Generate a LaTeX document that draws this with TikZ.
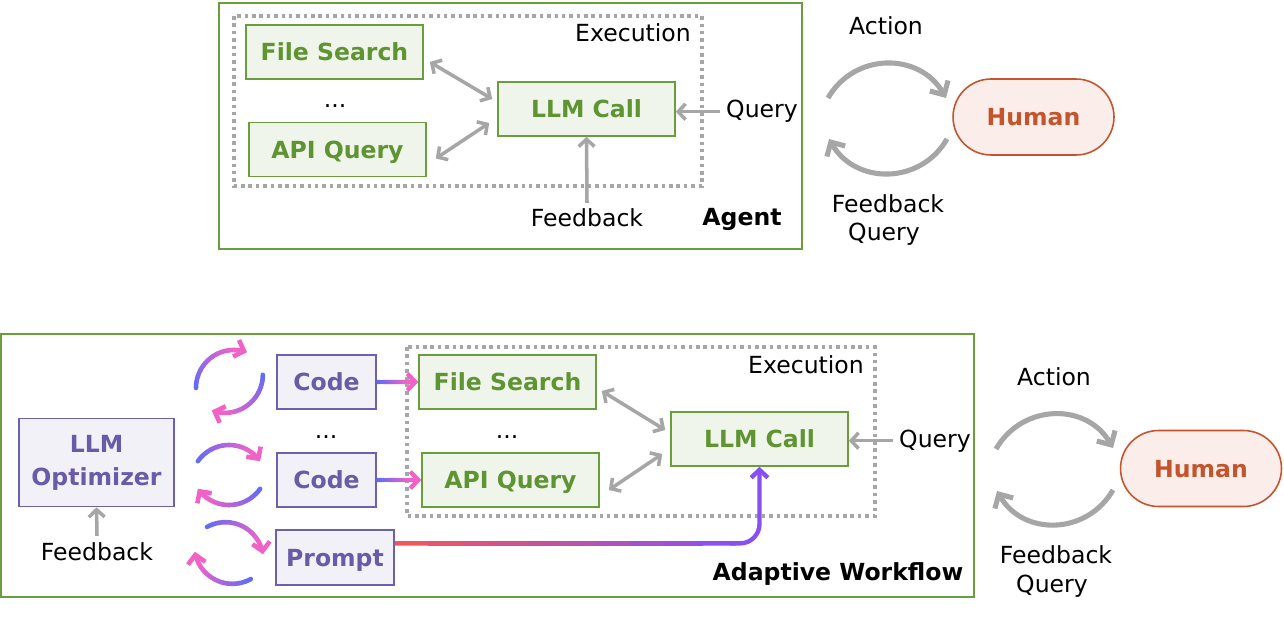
\documentclass[tikz,border=0pt]{standalone}
\usepackage{fontspec}
\setmainfont{DejaVu Sans}
\usetikzlibrary{arrows.meta,calc,positioning}

\definecolor{grn}{HTML}{6A9E3C}
\definecolor{grntxt}{HTML}{5E9432}
\definecolor{grnfill}{HTML}{EFF5EA}
\definecolor{prp}{HTML}{6E60B0}
\definecolor{prptxt}{HTML}{6A5BA8}
\definecolor{prpfill}{HTML}{F2F1F7}
\definecolor{hum}{HTML}{C4542C}
\definecolor{humfill}{HTML}{FBEDEA}
\definecolor{gry}{HTML}{A6A6A6}
\definecolor{cblue}{HTML}{5B6CF6}
\definecolor{cpink}{HTML}{F062C8}
\definecolor{cred}{HTML}{F45757}
\definecolor{cviolet}{HTML}{8A4FF4}

\tikzset{
  lbl/.style={font=\fontsize{13.4}{16}\selectfont, anchor=base},
  lblb/.style={lbl, font=\fontsize{13.4}{16}\bfseries\selectfont},
  box/.style={draw, line width=0.9pt, font=\fontsize{13.4}{18.7}\bfseries\selectfont, inner sep=0pt},
  capbox/.style={text height=9.7pt, text depth=0pt},
  exebox/.style={box, capbox, draw=grn, fill=grnfill, text=grntxt, minimum width=3.54cm, minimum height=1.08cm},
  optbox/.style={box, draw=prp, fill=prpfill, text=prptxt},
  humbox/.style={box, capbox, draw=hum, fill=humfill, text=hum, minimum width=3.22cm, minimum height=1.52cm, rounded corners=0.76cm},
  outerbox/.style={draw=grn, line width=1.1pt},
  exec/.style={draw=gry, line width=2pt, dash pattern=on 2pt off 2.2pt},
  garrow/.style={draw=gry, line width=2pt, -{Straight Barb[length=4.2pt,width=9pt]}},
  garrows/.style={garrow, {Straight Barb[length=4.2pt,width=9pt]}-{Straight Barb[length=4.2pt,width=9pt]}},
  humloop/.style={draw=gry, line width=2.9pt, -{Straight Barb[length=6pt,width=12pt]}},
  cycline/.style={line width=2.6pt, line cap=round},
  gline/.style={line width=2.5pt},
  gtip/.style={gline, -{Straight Barb[length=4.5pt,width=9.5pt]}},
}

% arc of radius 38 whose colour runs from blue to pink
\newcommand\gradarc[3]{%
  \pgfmathsetmacro\sa{#2}
  \pgfmathsetmacro\ea{#3}
  \foreach \k in {1,...,10}{
    \pgfmathtruncatemacro\pct{10*\k-5}
    \pgfmathsetmacro\aa{\sa+(\ea-\sa)*(\k-1)/12}
    \pgfmathsetmacro\ab{\sa+(\ea-\sa)*\k/12}
    \draw[cycline, draw=cpink!\pct!cblue] (#1) ++(\aa:38) arc[start angle=\aa, end angle=\ab, radius=38];
  }
  \pgfmathsetmacro\aa{\sa+(\ea-\sa)*10/12}
  \draw[cycline, draw=cpink, -{Straight Barb[length=4.8pt,width=10pt]}] (#1) ++(\aa:38) arc[start angle=\aa, end angle=\ea, radius=38];
}
% two arcs turning round one point
\newcommand\cyclepair[3]{%
  \pgfmathsetmacro\rot{#3}
  \pgfmathsetmacro\ua{90+\rot}
  \gradarc{$(#1,#2)+(\ua:8)$}{215+\rot}{325+\rot}
  \pgfmathsetmacro\rot{#3}
  \pgfmathsetmacro\da{270+\rot}
  \gradarc{$(#1,#2)+(\da:8)$}{35+\rot}{145+\rot}
}
% straight piece whose colour runs from #3 to #4
\newcommand\gradseg[4]{%
  \foreach \k in {1,...,10}{
    \pgfmathtruncatemacro\pct{10*\k-5}
    \pgfmathsetmacro\ta{(\k-1)/10}
    \pgfmathsetmacro\tb{\k/10+0.02}
    \draw[gline, draw=#4!\pct!#3] ($(#1)!\ta!(#2)$) -- ($(#1)!\tb!(#2)$);
  }
}

\begin{document}
\begin{tikzpicture}[x=0.02cm, y=-0.02cm]
  \useasboundingbox (0,0) rectangle (1284,628);

  % agent
  \draw[outerbox] (219,3) rectangle (802,249);
  \draw[exec] (234,16) rectangle (702,186);
  \node[lbl] (ex1) at (633,42) {Execution};
  \node[exebox] (fs1) at (334.5,52) {File Search};
  \node[lbl] (dt1) at (335,108) {...};
  \node[exebox] (api1) at (337.5,149.5) {API Query};
  \node[exebox] (llm1) at (586.5,109) {LLM Call};
  \node[lbl] (q1) at (762,118) {Query};
  \node[lbl] (fb1) at (587,227) {Feedback};
  \node[lblb] (ag) at (742,226) {Agent};

  \draw[garrow] (q1.west) -- (q1.west -| llm1.east);
  \draw[garrow] (fb1.north) -- (llm1.south);
  \draw[garrows] ([shift={(6,10)}]fs1.east) -- ([shift={(-5,-10)}]llm1.west);
  \draw[garrows] ([shift={(9,9)}]api1.east) -- ([shift={(-8,14)}]llm1.west);

  \node[humbox] (hu1) at (1033.5,117) {Human};
  \node[lbl] (ac1) at (886,35) {Action};
  \node[lbl] (fq1) at (888,213) {Feedback};
  \node[lbl] (fq1b) at (884,240) {Query};
  \coordinate (l1a) at (828,98);
  \coordinate (l1b) at (946,98);
  \coordinate (l1c) at (947,139);
  \coordinate (l1d) at (829,139);
  \draw[humloop] (l1a) to[out=60, in=120, looseness=1.15] (l1b);
  \draw[humloop] (l1c) to[out=-120, in=-60, looseness=1.15] (l1d);

  % adaptive workflow
  \draw[outerbox] (1,334) rectangle (974,597);
  \draw[exec] (407,347) rectangle (875,516);
  \node[lbl] (ex2) at (806,373) {Execution};
  \node[exebox] (fs2) at (507.5,382) {File Search};
  \node[lbl] (dt2) at (507,438) {...};
  \node[exebox] (api2) at (510.5,480) {API Query};
  \node[exebox] (llm2) at (759.5,439) {LLM Call};
  \node[lbl] (q2) at (935,447) {Query};
  \node[lblb] (aw) at (838,580) {Adaptive Workflow};

  \node[optbox, align=center, minimum width=3.1cm, minimum height=1.76cm] (opt) at (96.5,462.5) {LLM\\Optimizer};
  \node[lbl] (fb2) at (97,560) {Feedback};
  \node[optbox, capbox, minimum width=1.98cm, minimum height=1.08cm] (cd1) at (326.5,382) {Code};
  \node[lbl] (dt3) at (326,438) {...};
  \node[optbox, capbox, minimum width=1.98cm, minimum height=1.08cm] (cd2) at (326.5,480) {Code};
  \node[optbox, capbox, minimum width=2.36cm, minimum height=1.1cm] (pr) at (335,557.5) {Prompt};

  \draw[garrow] (q2.west) -- (q2.west -| llm2.east);
  \draw[garrow] (fb2.north) -- (opt.south);
  \draw[garrows] ([shift={(5,9)}]fs2.east) -- ([shift={(-5,-9)}]llm2.west);
  \draw[garrows] ([shift={(9,10)}]api2.east) -- ([shift={(-8,15)}]llm2.west);

  \coordinate (c1m) at ($(cd1.east)!0.7!(fs2.west)$);
  \gradseg{cd1.east}{c1m}{cblue}{cpink}
  \draw[gtip, draw=cpink] (c1m) -- (fs2.west);
  \coordinate (c2m) at ($(cd2.east)!0.7!(api2.west)$);
  \gradseg{cd2.east}{c2m}{cblue}{cpink}
  \draw[gtip, draw=cpink] (c2m) -- (api2.west);

  \coordinate (pr0) at ($(pr.north east)!0.25!(pr.south east)$);
  \coordinate (pr1) at ($(pr0 -| llm2.south)+(-30,0)$);
  \gradseg{pr0}{pr1}{cred}{cviolet}
  \draw[gtip, draw=cviolet, rounded corners=11pt] (pr1) -- (pr0 -| llm2.south) -- (llm2.south);

  \cyclepair{229.4}{381.4}{-35}
  \cyclepair{229}{475}{0}
  \cyclepair{228.9}{553}{26}

  \node[humbox] (hu2) at (1201,468.5) {Human};
  \node[lbl] (ac2) at (1054,385) {Action};
  \node[lbl] (fq2) at (1056,563) {Feedback};
  \node[lbl] (fq2b) at (1052,592) {Query};
  \coordinate (l2a) at (996,449);
  \coordinate (l2b) at (1113,448);
  \coordinate (l2c) at (1113,490);
  \coordinate (l2d) at (997,491);
  \draw[humloop] (l2a) to[out=60, in=120, looseness=1.15] (l2b);
  \draw[humloop] (l2c) to[out=-120, in=-60, looseness=1.15] (l2d);
\end{tikzpicture}
\end{document}
